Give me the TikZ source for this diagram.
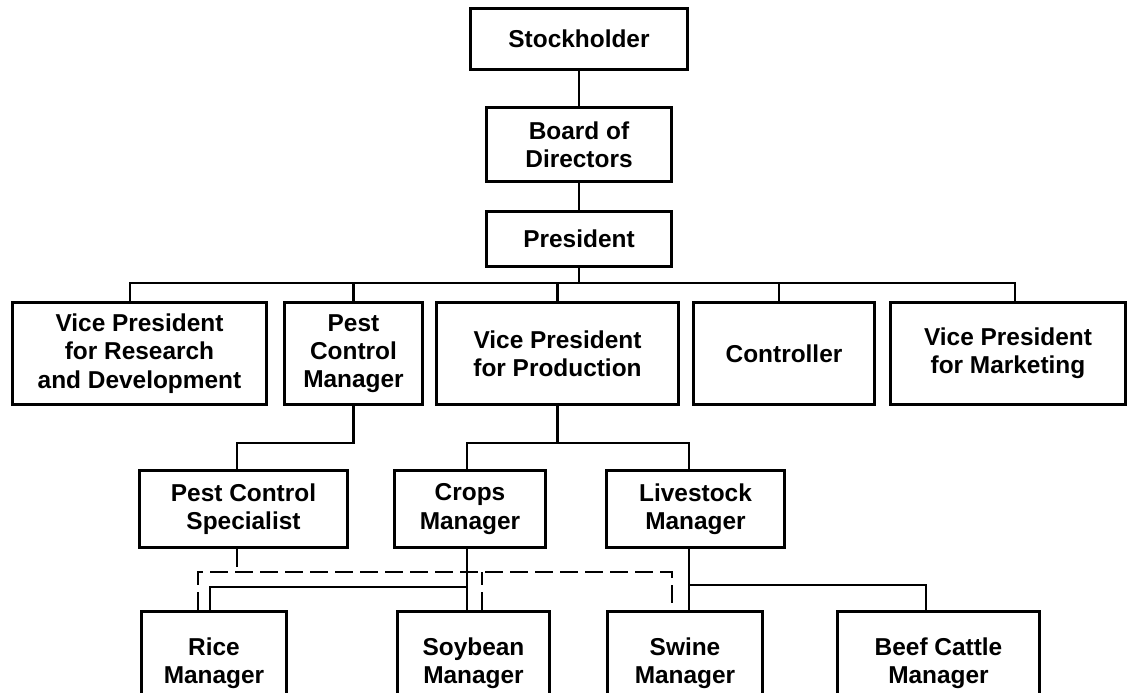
\documentclass[tikz,border=0pt]{standalone}
\usepackage{fontspec}
\setmainfont{Liberation Sans}
\usepackage{tikz}
\usetikzlibrary{positioning, calc}

\begin{document}
\begin{tikzpicture}[
    x=0.02cm, y=-0.02cm,
    box/.style={rectangle, draw=black, line width=0.06cm, align=center, inner sep=1pt,
        font=\fontsize{13.9}{16.1}\selectfont\bfseries},
    conn/.style={draw=black, line width=0.05cm},
    dashlink/.style={draw=black, line width=0.05cm, dash pattern=on 0.36cm off 0.14cm}
]
    \useasboundingbox (0,0) rectangle (1133,693);

    % top of the chart
    \node[box, minimum width=4.36cm, minimum height=1.24cm] (stock) at (579,39) {Stockholder};
    \node[box, minimum width=3.7cm, minimum height=1.5cm] (board) at (579,144.5) {Board of\\Directors};
    \node[box, minimum width=3.7cm, minimum height=1.12cm] (pres) at (579,239) {President};

    % officers
    \node[box, minimum width=5.1cm, minimum height=2.06cm] (vprd) at (139.5,353.5) {Vice President\\for Research\\and Development};
    \node[box, minimum width=2.78cm, minimum height=2.06cm] (pcm) at (353.5,353.5) {Pest\\Control\\Manager};
    \node[box, minimum width=4.86cm, minimum height=2.06cm] (vpprod) at (557.5,353.5) {Vice President\\for Production};
    \node[box, minimum width=3.64cm, minimum height=2.06cm] (ctrl) at (784,353.5) {Controller};
    \node[box, minimum width=4.72cm, minimum height=2.06cm] (vpmkt) at (1008,353.5) {Vice President\\for Marketing};

    % managers
    \node[box, minimum width=4.18cm, minimum height=1.56cm] (pcs) at (243.5,509) {Pest Control\\Specialist};
    \node[box, minimum width=3.04cm, minimum height=1.56cm] (crops) at (470,509) {Crops\\Manager};
    \node[box, minimum width=3.58cm, minimum height=1.56cm] (live) at (695.5,509) {Livestock\\Manager};

    \node[box, minimum width=2.92cm, minimum height=2.1cm] (rice) at (214,663.5) {Rice\\Manager};
    \node[box, minimum width=3.06cm, minimum height=2.1cm] (soy) at (473.5,663.5) {Soybean\\Manager};
    \node[box, minimum width=3.12cm, minimum height=2.1cm] (swine) at (685,663.5) {Swine\\Manager};
    \node[box, minimum width=4.06cm, minimum height=2.1cm] (beef) at (938.5,663.5) {Beef Cattle\\Manager};

    \coordinate (bus) at (0,283);
    \coordinate (split1) at (0,443);
    \coordinate (split2) at (0,587);
    \coordinate (split3) at (0,585);
    \coordinate (dashbus) at (0,572);

    \draw[conn] (stock) -- (board);
    \draw[conn] (board) -- (pres);
    \draw[conn] (pres) -- (pres |- bus);
    \draw[conn] ([xshift=-0.19cm]vprd.north) |- ([xshift=0.14cm]vpmkt.north |- bus) -- ([xshift=0.14cm]vpmkt.north);
    \draw[conn] (pcm.north) -- (pcm.north |- bus);
    \draw[conn] (vpprod.north) -- (vpprod.north |- bus);
    \draw[conn] ([xshift=-0.1cm]ctrl.north) -- ([xshift=-0.1cm]ctrl.north |- bus);

    \draw[conn] (pcm.south) |- ([xshift=-0.13cm]pcs.north |- split1) -- ([xshift=-0.13cm]pcs.north);
    \draw[conn] (vpprod.south) -- (vpprod.south |- split1);
    \draw[conn] ([xshift=-0.06cm]crops.north) |- ([xshift=-0.13cm]live.north |- split1) -- ([xshift=-0.13cm]live.north);

    \draw[conn] ([xshift=-0.06cm]crops.south) -- ([xshift=-0.06cm]crops.south |- soy.north);
    \draw[conn] ([xshift=-0.08cm]rice.north) |- ([xshift=-0.06cm]crops.south |- split2);
    \draw[conn] ([xshift=-0.13cm]live.south) -- ([xshift=-0.13cm]live.south |- swine.north);
    \draw[conn] ([xshift=-0.13cm]live.south |- split3) -| ([xshift=-0.25cm]beef.north);

    % staff link of the specialist
    \draw[dashlink] ([xshift=-0.13cm]pcs.south) -- ([xshift=-0.13cm]pcs.south |- dashbus);
    \draw[dashlink] ([xshift=-0.32cm]rice.north) |- ([xshift=-0.26cm]swine.north |- dashbus) -- ([xshift=-0.26cm]swine.north);
    \draw[dashlink] ([xshift=0.17cm]soy.north) -- ([xshift=0.17cm]soy.north |- dashbus);
\end{tikzpicture}
\end{document}
